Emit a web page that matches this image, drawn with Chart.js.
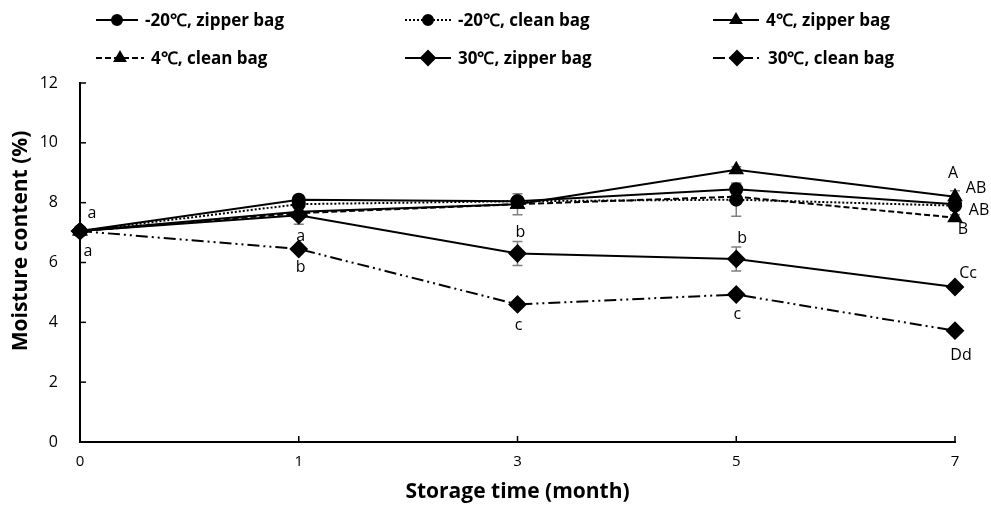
<!DOCTYPE html>
<html><head><meta charset="utf-8">
<script src="https://cdn.jsdelivr.net/npm/chart.js@4.4.0/dist/chart.umd.min.js"></script>
<style>html,body{margin:0;padding:0;background:#fff;} #wrap{width:991px;height:507px;position:relative;}</style>
</head><body><div id="wrap"><canvas id="c" width="991" height="507"></canvas></div>
<script>
// ---- data ----
const months = ['0', '1', '3', '5', '7'];
const seriesNames = ['-20℃, zipper bag', '-20℃, clean bag', '4℃, zipper bag', '4℃, clean bag', '30℃, zipper bag', '30℃, clean bag'];
const m20Zipper = [7.05, 8.10, 8.05, 8.45, 7.95];
const m20Clean  = [7.05, 7.95, 8.05, 8.10, 7.90];
const p4Zipper  = [7.05, 7.70, 7.95, 9.10, 8.20];
const p4Clean   = [7.05, 7.65, 7.95, 8.20, 7.50];
const p30Zipper = [7.05, 7.58, 6.30, 6.12, 5.18];
const p30Clean  = [7.05, 6.45, 4.60, 4.93, 3.72];
const m20ZipperErr = [0.05, 0.15, 0.10, 0.20, 0.10];
const m20CleanErr  = [0.05, 0.10, 0.10, 0.55, 0.10];
const p4ZipperErr  = [0.05, 0.10, 0.10, 0.10, 0.20];
const p4CleanErr   = [0.05, 0.10, 0.35, 0.10, 0.10];
const p30ZipperErr = [0.05, 0.30, 0.40, 0.40, 0.10];
const p30CleanErr  = [0.05, 0.10, 0.10, 0.10, 0.10];
const yTicks = [0, 2, 4, 6, 8, 10, 12];
const xTitle = 'Storage time (month)';
const yTitle = 'Moisture content (%)';
// significance letters: category index, y value anchor, text
const letterIdx  = [0, 0, 1, 1, 2, 2, 3, 3, 4, 4, 4, 4, 4, 4];
const letterVal  = [7.65, 6.38, 6.88, 5.82, 6.99, 3.88, 6.82, 4.28, 8.99, 8.49, 7.75, 7.09, 5.65, 2.91];
const letterText = ['a', 'a', 'a', 'b', 'b', 'c', 'b', 'c', 'A', 'AB', 'AB', 'B', 'Cc', 'Dd'];

// ---- styles ----
const letterDx = [12, 8, 2, 2, 3, 1, 6, 1, -2, 21, 24, 8, 13, 6];
const styles = [
  {dash: [], point: 'circle', r: 6},
  {dash: [2, 2], point: 'circle', r: 6},
  {dash: [], point: 'triangle', r: 7},
  {dash: [6, 3], point: 'triangle', r: 7},
  {dash: [], point: 'rectRot', r: 8},
  {dash: [12, 4, 2, 4, 2, 4], point: 'rectRot', r: 8}
];
const legendPos = [
  {x: 96, y: 20, w: 42}, {x: 405, y: 20, w: 46}, {x: 713, y: 20, w: 46},
  {x: 96, y: 58, w: 48}, {x: 405, y: 58, w: 46}, {x: 713, y: 58, w: 48}
];
const values = [m20Zipper, m20Clean, p4Zipper, p4Clean, p30Zipper, p30Clean];
const errs = [m20ZipperErr, m20CleanErr, p4ZipperErr, p4CleanErr, p30ZipperErr, p30CleanErr];

const datasets = values.map((v, i) => ({
  label: seriesNames[i], data: v, borderColor: '#000', backgroundColor: '#000',
  borderWidth: 2, borderDash: styles[i].dash, pointStyle: styles[i].point,
  pointRadius: styles[i].r, pointHoverRadius: styles[i].r, tension: 0, fill: false,
  order: 6 - i
}));

const extras = {
  id: 'extras',
  beforeDatasetsDraw(chart) {
    const ctx = chart.ctx, xs = chart.scales.x, ys = chart.scales.y;
    ctx.save(); ctx.strokeStyle = '#808080'; ctx.lineWidth = 1.5;
    errs.forEach((e, i) => e.forEach((d, j) => {
      const x = xs.getPixelForValue(j);
      const y1 = ys.getPixelForValue(values[i][j] + d), y2 = ys.getPixelForValue(values[i][j] - d);
      ctx.beginPath(); ctx.moveTo(x, y1); ctx.lineTo(x, y2);
      ctx.moveTo(x - 5, y1); ctx.lineTo(x + 5, y1); ctx.moveTo(x - 5, y2); ctx.lineTo(x + 5, y2);
      ctx.stroke();
    }));
    ctx.restore();
  },
  afterDraw(chart) {
    const ctx = chart.ctx, xs = chart.scales.x, ys = chart.scales.y, a = chart.chartArea;
    ctx.save();
    // inward tick marks
    ctx.strokeStyle = '#000'; ctx.lineWidth = 1.5;
    yTicks.forEach(t => { const y = ys.getPixelForValue(t); ctx.beginPath(); ctx.moveTo(a.left, y); ctx.lineTo(a.left + 6, y); ctx.stroke(); });
    months.forEach((m, j) => { if (j === 0) return; const x = xs.getPixelForValue(j); ctx.beginPath(); ctx.moveTo(x, a.bottom); ctx.lineTo(x, a.bottom - 6); ctx.stroke(); });
    // y title
    ctx.fillStyle = '#000'; ctx.font = 'bold 21px "Open Sans"'; ctx.textAlign = 'center'; ctx.textBaseline = 'middle';
    ctx.save(); ctx.translate(21, 241); ctx.rotate(-Math.PI / 2); ctx.fillText(yTitle, 0, 0); ctx.restore();
    // significance letters
    ctx.font = '16px "Open Sans"';
    letterText.forEach((t, k) => {
      ctx.fillText(t, xs.getPixelForValue(letterIdx[k]) + letterDx[k], ys.getPixelForValue(letterVal[k]));
    });
    // legend
    ctx.textAlign = 'left'; ctx.font = 'bold 17px "Open Sans"';
    seriesNames.forEach((n, i) => {
      const p = legendPos[i], st = styles[i];
      ctx.strokeStyle = '#000'; ctx.lineWidth = 2; ctx.setLineDash(st.dash);
      ctx.beginPath(); ctx.moveTo(p.x, p.y); ctx.lineTo(p.x + p.w, p.y); ctx.stroke();
      ctx.setLineDash([]);
      Chart.helpers.drawPoint(ctx, {pointStyle: st.point, radius: st.r - 1, borderWidth: 1}, p.x + p.w / 2, p.y);
      ctx.fillStyle = '#000';
      ctx.fillText(n, p.x + p.w + 7, p.y + 1);
    });
    ctx.restore();
  }
};

new Chart(document.getElementById('c'), {
  type: 'line',
  data: {labels: months, datasets},
  plugins: [extras],
  options: {
    responsive: false, animation: false, devicePixelRatio: 1,
    layout: {padding: {top: 83, right: 36, left: 0, bottom: 0}},
    plugins: {legend: {display: false}, tooltip: {enabled: false}},
    scales: {
      x: {
        type: 'category', offset: false,
        grid: {display: false, drawTicks: false},
        border: {display: true, color: '#000', width: 2},
        ticks: {color: '#000', font: {family: 'Open Sans', size: 15}, padding: 11, maxRotation: 0},
        title: {display: true, text: xTitle, color: '#000', font: {family: 'Open Sans', size: 21, weight: 'bold'}, padding: {top: 0, bottom: 2}},
        afterFit(s) { s.height = 65; }
      },
      y: {
        min: 0, max: 12,
        grid: {display: false, drawTicks: false},
        border: {display: true, color: '#000', width: 2},
        ticks: {stepSize: 2, color: '#000', font: {family: 'Open Sans', size: 16}, padding: 22},
        afterFit(s) { s.width = 80; }
      }
    }
  }
});
</script></body></html>
